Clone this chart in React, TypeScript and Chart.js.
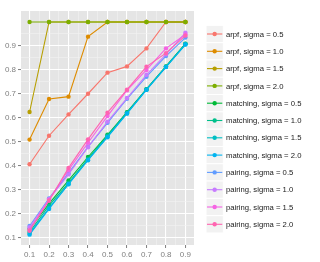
import React, { useEffect, useRef } from "react";
import { Chart, registerables } from "chart.js";

Chart.register(...registerables);

const xValues = [0.1, 0.2, 0.3, 0.4, 0.5, 0.6, 0.7, 0.8, 0.9];

const seriesLabels = [
  "arpf, sigma = 0.5",
  "arpf, sigma = 1.0",
  "arpf, sigma = 1.5",
  "arpf, sigma = 2.0",
  "matching, sigma = 0.5",
  "matching, sigma = 1.0",
  "matching, sigma = 1.5",
  "matching, sigma = 2.0",
  "pairing, sigma = 0.5",
  "pairing, sigma = 1.0",
  "pairing, sigma = 1.5",
  "pairing, sigma = 2.0",
];

const seriesColors = [
  "#F8766D",
  "#DE8C00",
  "#B79F00",
  "#7CAE00",
  "#00BA38",
  "#00C08B",
  "#00BFC4",
  "#00B4F0",
  "#619CFF",
  "#C77CFF",
  "#F564E3",
  "#FF64B0",
];

const arpf05 = [0.407, 0.526, 0.615, 0.701, 0.789, 0.815, 0.89, 1.0, 1.0];
const arpf10 = [0.51, 0.679, 0.689, 0.939, 1.0, 1.0, 1.0, 1.0, 1.0];
const arpf15 = [0.625, 1.0, 1.0, 1.0, 1.0, 1.0, 1.0, 1.0, 1.0];
const arpf20 = [1.0, 1.0, 1.0, 1.0, 1.0, 1.0, 1.0, 1.0, 1.0];
const matching05 = [0.1375, 0.243, 0.34, 0.4375, 0.53, 0.624, 0.72, 0.815, 0.91];
const matching10 = [0.125, 0.235, 0.33, 0.43, 0.527, 0.622, 0.72, 0.814, 0.908];
const matching15 = [0.118, 0.225, 0.325, 0.425, 0.522, 0.62, 0.718, 0.813, 0.907];
const matching20 = [0.114, 0.221, 0.324, 0.424, 0.52, 0.618, 0.717, 0.812, 0.906];
const pairing05 = [0.15, 0.265, 0.37, 0.48, 0.58, 0.68, 0.772, 0.858, 0.935];
const pairing10 = [0.145, 0.262, 0.365, 0.478, 0.585, 0.683, 0.78, 0.865, 0.955];
const pairing15 = [0.135, 0.26, 0.383, 0.497, 0.608, 0.715, 0.8, 0.89, 0.948];
const pairing20 = [0.13, 0.255, 0.392, 0.511, 0.622, 0.718, 0.814, 0.87, 0.943];

const seriesValues = [
  arpf05, arpf10, arpf15, arpf20,
  matching05, matching10, matching15, matching20,
  pairing05, pairing10, pairing15, pairing20,
];

const xMajorTicks = [0.1, 0.2, 0.3, 0.4, 0.5, 0.6, 0.7, 0.8, 0.9];
const xMinorTicks = [0.15, 0.25, 0.35, 0.45, 0.55, 0.65, 0.75, 0.85];
const yMajorTicks = [0.1, 0.2, 0.3, 0.4, 0.5, 0.6, 0.7, 0.8, 0.9];
const yMinorTicks = [0.15, 0.25, 0.35, 0.45, 0.55, 0.65, 0.75, 0.85, 0.95];
const xTickLabels = ["0.1", "0.2", "0.3", "0.4", "0.5", "0.6", "0.7", "0.8", "0.9"];
const yTickLabels = ["0.1", "0.2", "0.3", "0.4", "0.5", "0.6", "0.7", "0.8", "0.9"];

const majorIndex = (list: number[], v: number) =>
  list.findIndex((m) => Math.abs(m - v) < 1e-6);

const FONT = "'Liberation Sans', Arial, sans-serif";

const panelPlugin = {
  id: "panelBg",
  beforeDraw(chart: any) {
    const { ctx, chartArea } = chart;
    ctx.save();
    ctx.fillStyle = "#FFFFFF";
    ctx.fillRect(0, 0, chart.width, chart.height);
    ctx.fillStyle = "#E5E5E5";
    ctx.fillRect(chartArea.left, chartArea.top, chartArea.right - chartArea.left, chartArea.bottom - chartArea.top);
    ctx.restore();
  },
};

const legendPlugin = {
  id: "ggLegend",
  afterDraw(chart: any) {
    const { ctx } = chart;
    const keyLeft = 206;
    const keyW = 17.3;
    const keyH = 17.3;
    const firstCenter = 34;
    ctx.save();
    chart.data.datasets.forEach((ds: any, i: number) => {
      const cy = firstCenter + i * keyH;
      const top = cy - keyH / 2;
      ctx.fillStyle = "#F2F2F2";
      ctx.fillRect(keyLeft, top, keyW, keyH);
      ctx.strokeStyle = "#FFFFFF";
      ctx.lineWidth = 1;
      ctx.strokeRect(keyLeft, top, keyW, keyH);
      ctx.strokeStyle = ds.borderColor;
      ctx.lineWidth = 1.1;
      ctx.beginPath();
      ctx.moveTo(keyLeft + 1, cy);
      ctx.lineTo(keyLeft + keyW - 1, cy);
      ctx.stroke();
      ctx.fillStyle = ds.borderColor;
      ctx.beginPath();
      ctx.arc(keyLeft + keyW / 2, cy, 2.2, 0, Math.PI * 2);
      ctx.fill();
      ctx.fillStyle = "#1A1A1A";
      ctx.font = `7.7px ${FONT}`;
      ctx.textAlign = "left";
      ctx.textBaseline = "middle";
      ctx.fillText(ds.label, 226, cy + 0.5);
    });
    ctx.restore();
  },
};

export default function App() {
  const ref = useRef<HTMLCanvasElement>(null);
  useEffect(() => {
    document.body.style.margin = "0";
    const canvas = ref.current;
    if (!canvas) return;
    const chart = new Chart(canvas, {
      type: "line",
      data: {
        datasets: seriesValues.map((vals, i) => ({
          label: seriesLabels[i],
          data: xValues.map((x, j) => ({ x, y: vals[j] })),
          borderColor: seriesColors[i],
          backgroundColor: seriesColors[i],
          borderWidth: 1.1,
          pointRadius: 2.2,
          pointBorderWidth: 0,
          pointHoverRadius: 2.2,
          tension: 0,
          fill: false,
          order: seriesValues.length - i,
        })),
      },
      options: {
        animation: false,
        responsive: false,
        events: [],
        layout: { padding: { left: 0, top: 11, right: 126, bottom: 0 } },
        plugins: { legend: { display: false }, tooltip: { enabled: false } },
        scales: {
          x: {
            type: "linear",
            min: 0.056,
            max: 0.944,
            afterBuildTicks: (s: any) => {
              s.ticks = [...xMajorTicks, ...xMinorTicks].sort((a, b) => a - b).map((v) => ({ value: v }));
            },
            afterFit: (s: any) => {
              s.height = 17;
            },
            border: { display: false },
            grid: {
              color: (c: any) => (majorIndex(xMajorTicks, c.tick.value) >= 0 ? "#FFFFFF" : "#F2F2F2"),
              lineWidth: (c: any) => (majorIndex(xMajorTicks, c.tick.value) >= 0 ? 1.1 : 0.6),
              tickColor: (c: any) => (majorIndex(xMajorTicks, c.tick.value) >= 0 ? "#7F7F7F" : "rgba(0,0,0,0)"),
              tickLength: 3,
              tickWidth: 1,
            },
            ticks: {
              autoSkip: false,
              maxRotation: 0,
              padding: 2,
              color: "#7F7F7F",
              font: { family: FONT, size: 8 },
              callback: (v: any) => {
                const k = majorIndex(xMajorTicks, Number(v));
                return k >= 0 ? xTickLabels[k] : "";
              },
            },
          },
          y: {
            type: "linear",
            min: 0.0708,
            max: 1.0458,
            afterBuildTicks: (s: any) => {
              s.ticks = [...yMajorTicks, ...yMinorTicks].sort((a, b) => a - b).map((v) => ({ value: v }));
            },
            afterFit: (s: any) => {
              s.width = 21;
            },
            border: { display: false },
            grid: {
              color: (c: any) => (majorIndex(yMajorTicks, c.tick.value) >= 0 ? "#FFFFFF" : "#F2F2F2"),
              lineWidth: (c: any) => (majorIndex(yMajorTicks, c.tick.value) >= 0 ? 1.1 : 0.6),
              tickColor: (c: any) => (majorIndex(yMajorTicks, c.tick.value) >= 0 ? "#7F7F7F" : "rgba(0,0,0,0)"),
              tickLength: 3,
              tickWidth: 1,
            },
            ticks: {
              autoSkip: false,
              padding: 2,
              color: "#7F7F7F",
              font: { family: FONT, size: 8 },
              callback: (v: any) => {
                const k = majorIndex(yMajorTicks, Number(v));
                return k >= 0 ? yTickLabels[k] : "";
              },
            },
          },
        },
      },
      plugins: [panelPlugin, legendPlugin],
    } as any);
    return () => chart.destroy();
  }, []);
  return (
    <div style={{ position: "fixed", left: 0, top: 0, width: 320, height: 262 }}>
      <canvas ref={ref} width={320} height={262} style={{ display: "block", width: 320, height: 262 }} />
    </div>
  );
}
